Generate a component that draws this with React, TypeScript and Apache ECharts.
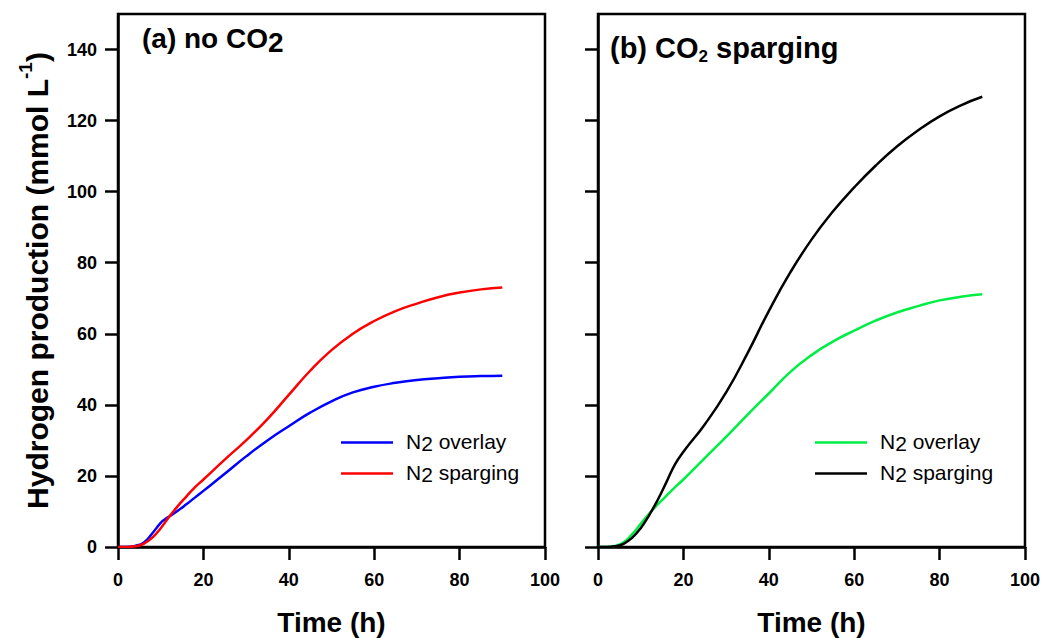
import React, { useEffect, useRef } from "react";
import * as echarts from "echarts";

// Panel (a): no CO2
const timeOverlayA = [0, 2, 4, 6, 8, 10, 11, 12, 14, 16, 18, 20, 25, 30, 35, 40, 45, 50, 55, 60, 65, 70, 75, 80, 85, 90];
const overlayA = [0, 0, 0.3, 1.2, 3.8, 6.8, 7.8, 8.6, 10.2, 12, 13.9, 15.8, 20.6, 25.5, 30, 34, 37.8, 41, 43.5, 45.1, 46.2, 47, 47.5, 47.9, 48.1, 48.2];
const timeSpargingA = [0, 2, 4, 6, 8, 10, 12, 14, 16, 18, 20, 25, 30, 35, 40, 45, 50, 55, 60, 65, 70, 75, 80, 85, 90];
const spargingA = [0, 0, 0.2, 0.9, 2.6, 5.3, 8.5, 11.5, 14.2, 16.8, 19, 24.6, 30, 36, 42.8, 49.6, 55.4, 60, 63.6, 66.4, 68.5, 70.3, 71.6, 72.5, 73.0];

// Panel (b): CO2 sparging
const timeOverlayB = [0, 2, 4, 6, 8, 10, 12, 14, 16, 18, 20, 25, 30, 35, 40, 45, 50, 55, 60, 65, 70, 75, 80, 85, 90];
const overlayB = [0, 0, 0.3, 1.3, 3.6, 6.5, 9.4, 12, 14.4, 16.8, 19, 25, 31, 37.2, 43.2, 49.2, 54, 57.8, 60.9, 63.7, 66, 67.8, 69.4, 70.4, 71.1];
const timeSpargingB = [0, 2, 4, 6, 8, 10, 12, 14, 16, 18, 20, 25, 30, 35, 40, 45, 50, 55, 60, 65, 70, 75, 80, 85, 90];
const spargingB = [0, 0, 0.2, 0.9, 2.6, 5.3, 9.0, 13.3, 18.2, 23.2, 26.8, 34.5, 43.5, 54.5, 66.4, 77.2, 86.5, 94.4, 101.2, 107.3, 112.7, 117.3, 121.2, 124.3, 126.7];

const yTicks = [0, 20, 40, 60, 80, 100, 120, 140];
const seriesNames = ["a N2 overlay", "a N2 sparging", "b N2 overlay", "b N2 sparging"];

const FONT = "'Liberation Sans', Arial, Helvetica, sans-serif";

const pairs = (t: number[], v: number[]) => t.map((x, i) => [x, v[i]]);

export default function App() {
  const ref = useRef<HTMLDivElement>(null);
  useEffect(() => {
    if (!ref.current) return;
    const chart = echarts.init(ref.current, null, { renderer: "svg" });
    const axisLine = { show: true, onZero: false, lineStyle: { color: "#000", width: 2.5 } };
    const axisTick = { show: true, inside: false, length: 13, lineStyle: { color: "#000", width: 2.5 } };
    const xAxis = (gi: number) => ({
      type: "value",
      gridIndex: gi,
      min: 0,
      max: 100,
      interval: 20,
      axisLine,
      axisTick,
      splitLine: { show: false },
      axisLabel: { color: "#000", fontFamily: FONT, fontWeight: "bold", fontSize: 18, margin: 24 },
      name: "Time (h)",
      nameLocation: "middle",
      nameGap: 61,
      nameTextStyle: { color: "#000", fontFamily: FONT, fontWeight: "bold", fontSize: 28 },
    });
    const yAxis = (gi: number, labels: boolean) => ({
      type: "value",
      gridIndex: gi,
      min: 0,
      max: 150,
      interval: 10,
      axisLine,
      axisTick: { ...axisTick, customValues: yTicks },
      splitLine: { show: false },
      axisLabel: {
        show: labels,
        customValues: yTicks,
        color: "#000",
        fontFamily: FONT,
        fontWeight: "bold",
        fontSize: 18,
        margin: 21,
      },
      ...(labels
        ? {
            name: "{m|Hydrogen production (mmol L}{s|-1}{m|)}",
            nameLocation: "middle",
            nameGap: 66,
            nameTextStyle: {
              color: "#000",
              fontFamily: FONT,
              fontWeight: "bold",
              fontSize: 30,
              rich: {
                m: { fontFamily: FONT, fontWeight: "bold", fontSize: 30, lineHeight: 36, verticalAlign: "bottom", color: "#000" },
                s: { fontFamily: FONT, fontWeight: "bold", fontSize: 19, lineHeight: 19, verticalAlign: "top", color: "#000" },
              },
            },
          }
        : {}),
    });
    const legendRich = {
      m: { fontFamily: FONT, fontSize: 21, lineHeight: 23, verticalAlign: "top", color: "#000" },
      p: { fontFamily: FONT, fontSize: 21, lineHeight: 23, verticalAlign: "top", color: "#000", padding: [0, 0, 0, 8] },
      s: { fontFamily: FONT, fontSize: 21, lineHeight: 23, verticalAlign: "bottom", color: "#000", padding: [5, 0, 0, 0] },
    };
    const legendFmt = (name: string) =>
      name.endsWith("overlay") ? "{p|N}{s|2}{m| overlay}" : "{p|N}{s|2}{m| sparging}";
    const legend = (left: number, names: string[]) => ({
      left,
      top: 428,
      orient: "vertical",
      padding: 0,
      icon: "rect",
      itemWidth: 52,
      itemHeight: 2.5,
      itemGap: 5,
      selectedMode: false,
      data: names,
      formatter: legendFmt,
      textStyle: { rich: legendRich },
    });
    const line = (name: string, gi: number, data: number[][], color: string) => ({
      type: "line",
      name,
      xAxisIndex: gi,
      yAxisIndex: gi,
      data,
      smooth: 0.5,
      showSymbol: false,
      symbol: "none",
      lineStyle: { color, width: 2.5 },
      itemStyle: { color },
    });
    chart.setOption({
      animation: false,
      backgroundColor: "#fff",
      title: [
        {
          text: "{m|(a) no CO}{s|2}",
          left: 142,
          top: 24,
          padding: 0,
          textStyle: {
            rich: {
              m: { fontFamily: FONT, fontWeight: "bold", fontSize: 28, lineHeight: 32, verticalAlign: "top", color: "#000" },
              s: { fontFamily: FONT, fontWeight: "bold", fontSize: 28, lineHeight: 32, verticalAlign: "bottom", color: "#000", padding: [6, 0, 0, 0] },
            },
          },
        },
        {
          text: "{m|(b) CO}{s|2}{m| sparging}",
          left: 610,
          top: 33,
          padding: 0,
          textStyle: {
            rich: {
              m: { fontFamily: FONT, fontWeight: "bold", fontSize: 29, lineHeight: 32, verticalAlign: "top", color: "#000" },
              s: { fontFamily: FONT, fontWeight: "bold", fontSize: 17, lineHeight: 17, verticalAlign: "bottom", color: "#000" },
            },
          },
        },
      ],
      legend: [legend(341, [seriesNames[0], seriesNames[1]]), legend(815, [seriesNames[2], seriesNames[3]])],
      grid: [
        { left: 118, top: 14, width: 427, height: 534, show: true, borderColor: "#000", borderWidth: 2.5 },
        { left: 598, top: 14, width: 427, height: 534, show: true, borderColor: "#000", borderWidth: 2.5 },
      ],
      xAxis: [xAxis(0), xAxis(1)],
      yAxis: [yAxis(0, true), yAxis(1, false)],
      series: [
        line(seriesNames[0], 0, pairs(timeOverlayA, overlayA), "#0000ff"),
        line(seriesNames[1], 0, pairs(timeSpargingA, spargingA), "#ff0000"),
        line(seriesNames[2], 1, pairs(timeOverlayB, overlayB), "#00ee44"),
        line(seriesNames[3], 1, pairs(timeSpargingB, spargingB), "#000000"),
      ],
    });
    return () => chart.dispose();
  }, []);
  return <div ref={ref} style={{ position: "absolute", left: 0, top: 0, width: 1043, height: 641 }} />;
}
